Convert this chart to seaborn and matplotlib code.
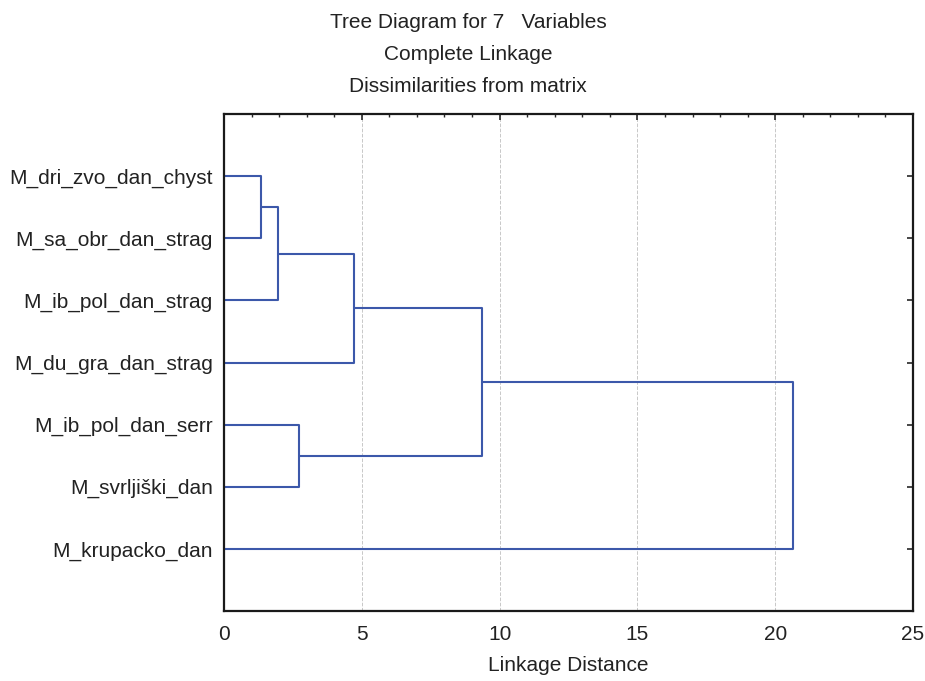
import numpy as np
import pandas as pd
import seaborn as sns
import matplotlib
matplotlib.use('Agg')
import matplotlib.pyplot as plt
from matplotlib.ticker import MultipleLocator

sns.set_style('white')
plt.rcParams['font.family'] = ['Liberation Sans', 'DejaVu Sans']

# leaves, top to bottom
variables = ['M_dri_zvo_dan_chyst', 'M_sa_obr_dan_strag', 'M_ib_pol_dan_strag',
             'M_du_gra_dan_strag', 'M_ib_pol_dan_serr', 'M_svrlji\u0161ki_dan',
             'M_krupacko_dan']
# merge steps: (node a, node b, linkage distance); new nodes get ids 7, 8, ...
merge_a = [0, 7, 8, 4, 9, 11]
merge_b = [1, 2, 3, 5, 10, 6]
merge_dist = [1.34, 1.95, 4.73, 2.71, 9.37, 20.63]

n = len(variables)
node_y = {i: i + 1 for i in range(n)}
node_x = {i: 0.0 for i in range(n)}

fig = plt.figure(figsize=(9.25, 6.81), dpi=100)
ax = fig.add_axes([224/925, 1 - 611/681, (913-224)/925, (611-114)/681])

line_col = '#3c58aa'
for k, (a, b, d) in enumerate(zip(merge_a, merge_b, merge_dist)):
    new = n + k
    ya, yb = node_y[a], node_y[b]
    ax.plot([node_x[a], d], [ya, ya], color=line_col, lw=1.5, solid_capstyle='butt')
    ax.plot([node_x[b], d], [yb, yb], color=line_col, lw=1.5, solid_capstyle='butt')
    ax.plot([d, d], [ya, yb], color=line_col, lw=1.5)
    node_y[new] = (ya + yb) / 2
    node_x[new] = d

fs = 15
ax.set_xlim(0, 25)
ax.set_ylim(8, 0)
ax.set_yticks(range(1, n + 1))
ax.set_yticklabels(variables, fontsize=fs, color='#222222')
ax.xaxis.set_major_locator(MultipleLocator(5))
ax.xaxis.set_minor_locator(MultipleLocator(1))
ax.tick_params(axis='x', which='major', direction='in', length=4.5, width=1.2,
               top=True, labelsize=fs, pad=10, labelcolor='#222222')
ax.tick_params(axis='x', which='minor', direction='in', length=2.5, width=1,
               top=True)
ax.tick_params(axis='y', direction='in', length=4, width=1.2, right=True, pad=8)
ax.grid(axis='x', which='major', color='#c8c8c8', ls='--', lw=0.7)
ax.set_axisbelow(True)
for s in ax.spines.values():
    s.set_visible(True)
    s.set_color('#1a1a1a')
    s.set_linewidth(1.6)

ax.set_xlabel('Linkage Distance', fontsize=fs, labelpad=9, color='#222222')

fig.text(468/925, 1 - 23/681, 'Tree Diagram for 7   Variables', ha='center', va='center', fontsize=fs, color='#222222')
fig.text(468/925, 1 - 55/681, 'Complete Linkage', ha='center', va='center', fontsize=fs, color='#222222')
fig.text(468/925, 1 - 86/681, 'Dissimilarities from matrix', ha='center', va='center', fontsize=fs, color='#222222')

fig.savefig('out.png', dpi=100)
